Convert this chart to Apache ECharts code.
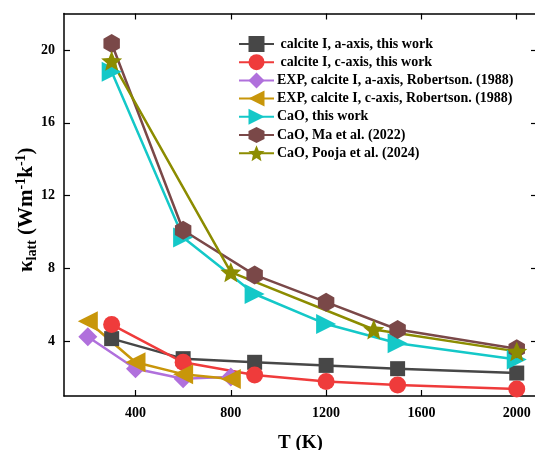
<!DOCTYPE html>
<html>
<head>
<meta charset="utf-8">
<script src="https://cdn.jsdelivr.net/npm/echarts@6/dist/echarts.min.js"></script>
<style>html,body{margin:0;padding:0;background:#fff}#c{width:535px;height:450px}</style>
</head>
<body>
<div id="c"></div>
<script>
// ---- data ----
const tCalc = [300, 600, 900, 1200, 1500, 2000];
const calcA = [4.15, 3.05, 2.85, 2.68, 2.5, 2.26];
const calcC = [4.92, 2.85, 2.15, 1.8, 1.6, 1.38];
const tExp = [200, 400, 600, 800];
const expA = [4.25, 2.5, 1.95, 2.05];
const expC = [5.1, 2.85, 2.2, 1.93];
const tCaO = [300, 600, 900, 1200, 1500, 2000];
const caoThis = [18.8, 9.7, 6.6, 4.95, 3.9, 3.0];
const caoMa = [20.35, 10.1, 7.65, 6.15, 4.65, 3.6];
const tPooja = [300, 800, 1400, 2000];
const caoPooja = [19.4, 7.8, 4.65, 3.45];
const xTicks = [400, 800, 1200, 1600, 2000];
const yTicks = [4, 8, 12, 16, 20];
const names = [
  ' calcite I, a-axis, this work',
  ' calcite I, c-axis, this work',
  'EXP, calcite I, a-axis, Robertson. (1988)',
  'EXP, calcite I, c-axis, Robertson. (1988)',
  'CaO, this work',
  'CaO, Ma et al. (2022)',
  'CaO, Pooja et al. (2024)'
];

const FONT = '"Liberation Serif", "Times New Roman", serif';
const HEX = 'path://M0,-1L0.866,-0.5L0.866,0.5L0,1L-0.866,0.5L-0.866,-0.5Z';
const STAR = 'path://M0,-1L0.265,-0.364L0.951,-0.309L0.428,0.139L0.588,0.809L0,0.45L-0.588,0.809L-0.428,0.139L-0.951,-0.309L-0.265,-0.364Z';

function zip(xs, ys) { return xs.map((x, i) => [x, ys[i]]); }
function mk(name, xs, ys, color, symbol, size, rot) {
  return {
    name: name, type: 'line', data: zip(xs, ys),
    symbol: symbol, symbolSize: size, symbolRotate: rot || 0, symbolKeepAspect: true,
    lineStyle: { color: color, width: 2.5 },
    itemStyle: { color: color },
    emphasis: { disabled: true }
  };
}
const plain = v => String(v);

const chart = echarts.init(document.getElementById('c'), null, { renderer: 'canvas' });
const axisLineStyle = { show: true, lineStyle: { color: '#000', width: 1.5 } };
chart.setOption({
  animation: false,
  backgroundColor: '#fff',
  grid: { left: 64, top: 13.5, right: -2, bottom: 54, containLabel: false, outerBoundsMode: 'none' },
  legend: {
    left: 233, top: 31, orient: 'vertical',
    itemWidth: 35, itemHeight: 20, itemGap: 2.2,
    textStyle: { fontFamily: FONT, fontWeight: 'bold', fontSize: 14, color: '#000', padding: [0, 0, 0, -2] },
    data: names
  },
  xAxis: [{
    type: 'value', min: 100, max: 2085, position: 'bottom',
    axisLine: axisLineStyle,
    axisTick: { show: true, inside: true, length: 6, customValues: xTicks, lineStyle: { color: '#000', width: 1.2 } },
    axisLabel: { customValues: xTicks, formatter: plain, margin: 10, fontFamily: FONT, fontWeight: 'bold', fontSize: 14, color: '#000' },
    splitLine: { show: false },
    name: 'T (K)', nameLocation: 'middle', nameGap: 38, nameMoveOverlap: false,
    nameTextStyle: { fontFamily: FONT, fontWeight: 'bold', fontSize: 19, color: '#000' }
  }, {
    type: 'value', min: 100, max: 2085, position: 'top',
    axisLine: axisLineStyle,
    axisTick: { show: true, inside: true, length: 6, customValues: xTicks, lineStyle: { color: '#000', width: 1.2 } },
    axisLabel: { show: false }, splitLine: { show: false }
  }],
  yAxis: [{
    type: 'value', min: 1, max: 22, position: 'left',
    axisLine: axisLineStyle,
    axisTick: { show: true, inside: true, length: 6, customValues: yTicks, lineStyle: { color: '#000', width: 1.2 } },
    axisLabel: { customValues: yTicks, formatter: plain, margin: 9, fontFamily: FONT, fontWeight: 'bold', fontSize: 14, color: '#000' },
    splitLine: { show: false },
    name: '{k|κ}{sub|latt}{k| (Wm}{sup|-1}{k|k}{sup|-1}{k|)}',
    nameLocation: 'middle', nameGap: 25, nameRotate: 90, nameMoveOverlap: false,
    nameTextStyle: {
      fontFamily: FONT, fontWeight: 'bold', color: '#000', padding: [0, 10, 0, 0],
      rich: {
        k: { fontFamily: FONT, fontWeight: 'bold', fontSize: 21, lineHeight: 25, color: '#000' },
        sub: { fontFamily: FONT, fontWeight: 'bold', fontSize: 14, lineHeight: 14, verticalAlign: 'bottom', color: '#000' },
        sup: { fontFamily: FONT, fontWeight: 'bold', fontSize: 14, lineHeight: 14, verticalAlign: 'top', color: '#000' }
      }
    }
  }, {
    type: 'value', min: 1, max: 22, position: 'right',
    axisLine: axisLineStyle,
    axisTick: { show: true, inside: true, length: 6, customValues: yTicks, lineStyle: { color: '#000', width: 1.2 } },
    axisLabel: { show: false }, splitLine: { show: false }
  }],
  series: [
    mk(names[0], tCalc, calcA, '#474747', 'rect', 15),
    mk(names[1], tCalc, calcC, '#ef3b3b', 'circle', 17),
    mk(names[2], tExp, expA, '#b070dc', 'diamond', 19),
    mk(names[3], tExp, expC, '#c8960a', 'triangle', 20, 90),
    mk(names[4], tCaO, caoThis, '#14c8c8', 'triangle', 20, -90),
    mk(names[5], tCaO, caoMa, '#7a4848', HEX, 19),
    mk(names[6], tPooja, caoPooja, '#8c8c00', STAR, 21)
  ]
});
</script>
</body>
</html>
